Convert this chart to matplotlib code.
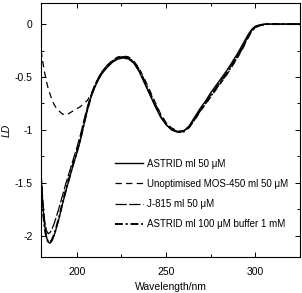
import matplotlib
matplotlib.use("Agg")
import matplotlib.pyplot as plt
from matplotlib.ticker import MultipleLocator

plt.rcParams['font.family'] = ['Liberation Sans', 'DejaVu Sans']

wl = [180, 181, 182, 183, 184, 185, 186, 187, 188, 190, 192, 194, 196, 198, 200,
      202, 204, 206, 208, 210, 212, 214, 217, 220, 223, 226, 229, 232, 235, 238,
      241, 244, 247, 250, 253, 256, 258, 260, 263, 266, 269, 272, 275, 278, 281,
      284, 287, 290, 293, 296, 298, 300, 303, 306, 310, 315, 320, 325]

astrid_50 = [-1.45, -1.72, -1.90, -2.01, -2.06, -2.07, -2.05, -2.01, -1.96, -1.84,
             -1.70, -1.57, -1.45, -1.33, -1.22, -1.10, -0.95, -0.81, -0.69, -0.60,
             -0.53, -0.47, -0.41, -0.36, -0.33, -0.32, -0.33, -0.37, -0.45, -0.56,
             -0.67, -0.78, -0.88, -0.95, -0.99, -1.015, -1.02, -1.01, -0.96, -0.88,
             -0.80, -0.73, -0.65, -0.58, -0.51, -0.44, -0.36, -0.28, -0.19, -0.10,
             -0.05, -0.02, -0.005, 0.0, 0.0, 0.0, 0.0, 0.0]

mos450_50 = [-0.25, -0.36, -0.46, -0.54, -0.61, -0.66, -0.71, -0.75, -0.78, -0.82,
             -0.85, -0.86, -0.84, -0.82, -0.80, -0.78, -0.75, -0.72, -0.66, -0.59,
             -0.52, -0.46, -0.39, -0.34, -0.31, -0.30, -0.31, -0.35, -0.42, -0.52,
             -0.63, -0.74, -0.85, -0.93, -0.98, -1.005, -1.01, -1.005, -0.97, -0.91,
             -0.83, -0.76, -0.69, -0.62, -0.55, -0.48, -0.40, -0.32, -0.23, -0.13,
             -0.07, -0.03, -0.01, 0.0, 0.0, 0.0, 0.0, 0.0]

j815_50 = [-1.40, -1.68, -1.86, -1.95, -1.98, -1.97, -1.94, -1.90, -1.85, -1.74,
           -1.62, -1.50, -1.39, -1.28, -1.17, -1.05, -0.91, -0.78, -0.67, -0.58,
           -0.51, -0.45, -0.39, -0.35, -0.32, -0.31, -0.32, -0.36, -0.44, -0.55,
           -0.66, -0.77, -0.87, -0.95, -1.00, -1.02, -1.02, -1.01, -0.97, -0.90,
           -0.82, -0.75, -0.67, -0.60, -0.53, -0.46, -0.38, -0.30, -0.21, -0.12,
           -0.06, -0.03, -0.01, 0.0, 0.0, 0.0, 0.0, 0.0]

astrid_100 = [-1.50, -1.76, -1.93, -2.02, -2.06, -2.06, -2.04, -2.00, -1.95, -1.83,
              -1.69, -1.56, -1.44, -1.32, -1.21, -1.09, -0.94, -0.80, -0.68, -0.59,
              -0.52, -0.46, -0.40, -0.35, -0.32, -0.31, -0.32, -0.36, -0.43, -0.54,
              -0.65, -0.76, -0.86, -0.94, -0.99, -1.015, -1.02, -1.015, -0.975, -0.90,
              -0.82, -0.75, -0.68, -0.61, -0.54, -0.47, -0.39, -0.31, -0.22, -0.12,
              -0.06, -0.03, -0.01, 0.0, 0.0, 0.0, 0.0, 0.0]

labels = ['ASTRID ml 50 \u03bcM', 'Unoptimised MOS-450 ml 50 \u03bcM',
          'J-815 ml 50 \u03bcM', 'ASTRID ml 100 \u03bcM buffer 1 mM']

fig = plt.figure(figsize=(3.02, 2.93), dpi=100)
ax = fig.add_axes([0.136, 0.123, 0.857, 0.867])

ax.plot(wl, astrid_50, color='black', lw=1.0, ls='-', label=labels[0])
ax.plot(wl, mos450_50, color='black', lw=0.9, ls=(0, (5, 3.5)), label=labels[1])
ax.plot(wl, j815_50, color='black', lw=0.9, ls=(0, (9, 2)), label=labels[2])
ax.plot(wl, astrid_100, color='black', lw=1.4, ls=(0, (4, 1.5, 1, 1.5)), label=labels[3])

ax.set_xlim(180, 325)
ax.set_ylim(-2.2, 0.2)
ax.xaxis.set_major_locator(MultipleLocator(50))
ax.xaxis.set_minor_locator(MultipleLocator(25))
ax.yaxis.set_minor_locator(MultipleLocator(0.25))
ax.set_yticks([0, -0.5, -1, -1.5, -2])
ax.set_yticklabels(['0', '-0.5', '-1', '-1.5', '-2'])
ax.tick_params(which='both', direction='in', top=True, right=True, labelsize=7.5, width=0.7)
ax.tick_params(which='major', length=3.5)
ax.tick_params(which='minor', length=2)
ax.tick_params(axis='y', which='major', pad=6)
ax.tick_params(axis='x', which='major', pad=7)
for s in ax.spines.values():
    s.set_linewidth(0.8)

ax.set_xlabel('Wavelength/nm', fontsize=7.5, labelpad=4)
ax.set_ylabel('LD', fontsize=7.5, style='italic', labelpad=2)

ax.legend(loc='lower right', bbox_to_anchor=(0.99, 0.075), frameon=False, fontsize=7,
          handlelength=2.8, handletextpad=0.5, labelspacing=1.05)

fig.savefig('out.png', dpi=100)
